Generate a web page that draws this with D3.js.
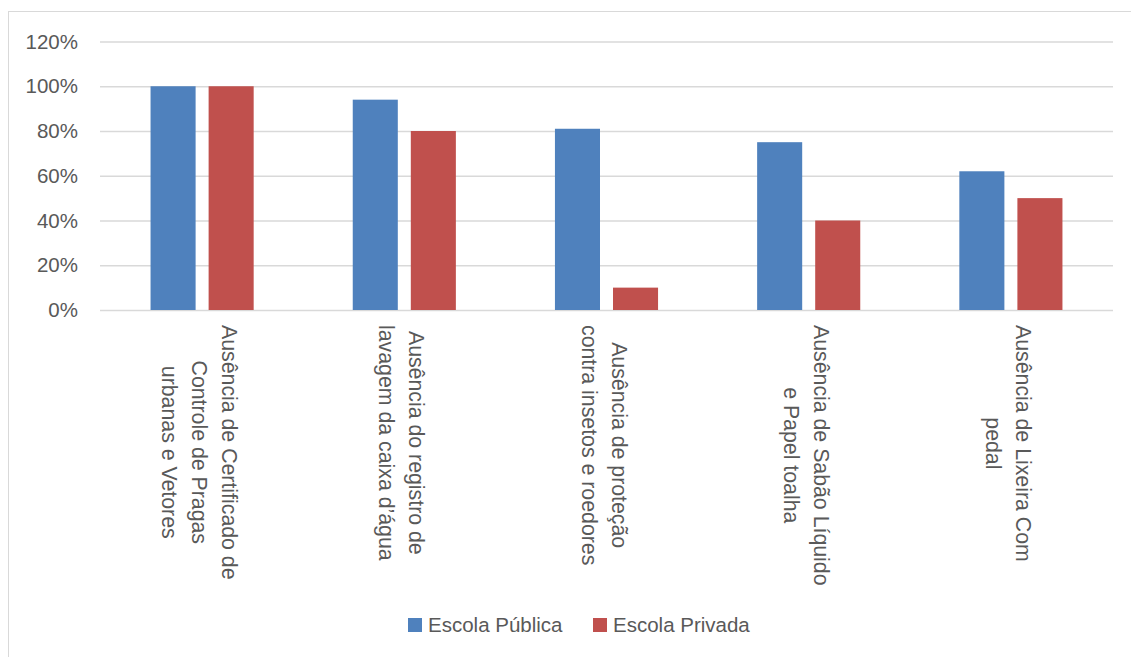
<!DOCTYPE html>
<html><head><meta charset="utf-8">
<script src="https://cdn.jsdelivr.net/npm/d3@7"></script>
<style>body{margin:0;background:#fff;} svg{display:block;}</style>
</head><body>
<svg id="chart" width="1131" height="657"></svg>
<script>
const categories = [
  ["Ausência de Certificado de", "Controle de Pragas", "urbanas e Vetores"],
  ["Ausência do registro de", "lavagem da caixa d’água"],
  ["Ausência de proteção", "contra insetos e roedores"],
  ["Ausência de Sabão Líquido", "e Papel toalha"],
  ["Ausência de Lixeira Com", "pedal"]
];
const seriesNames = ["Escola Pública", "Escola Privada"];
const publica = [1.00, 0.94, 0.81, 0.75, 0.62];
const privada = [1.00, 0.80, 0.10, 0.40, 0.50];
const yTicks = [0, 0.2, 0.4, 0.6, 0.8, 1.0, 1.2];
const colors = ["#4F81BD", "#C0504D"];

(function () {
const FONT = "'Liberation Sans', Arial, sans-serif";
const TXT = "#595959";
const svg = d3.select("#chart");

// outer border
svg.append("rect").attr("x", 8.5).attr("y", 11.5).attr("width", 1140).attr("height", 660)
  .attr("fill", "none").attr("stroke", "#d9d9d9").attr("stroke-width", 1);

const pL = 100, pR = 1113, pT = 41.5, pB = 310;
const y = d3.scaleLinear().domain([0, 1.2]).range([pB, pT]);
const keys = categories.map((c, i) => i);
const x0 = d3.scaleBand().domain(keys).range([pL, pR]).paddingInner(0.49).paddingOuter(0.25);
const x1 = d3.scaleBand().domain(seriesNames).range([0, x0.bandwidth()]).paddingInner(0.224);

// gridlines + tick labels via axis
const yAxis = d3.axisLeft(y).tickValues(yTicks).tickFormat(d3.format(".0%")).tickSize(-(pR - pL)).tickPadding(22);
const ga = svg.append("g").attr("transform", `translate(${pL},0)`).call(yAxis);
ga.select(".domain").remove();
ga.selectAll(".tick line").attr("stroke", "#d9d9d9").attr("stroke-width", 1.3);
ga.selectAll(".tick text").attr("fill", TXT).style("font-family", FONT).style("font-size", "20.5px");

// bars
const data = keys.map(i => ({i, vals: [publica[i], privada[i]]}));
const groups = svg.append("g").selectAll("g").data(data).join("g")
  .attr("transform", d => `translate(${x0(d.i)},0)`);
groups.selectAll("rect").data(d => d.vals.map((v, k) => ({k, v}))).join("rect")
  .attr("x", d => x1(seriesNames[d.k]))
  .attr("width", x1.bandwidth())
  .attr("y", d => y(d.v))
  .attr("height", d => y(0) - y(d.v))
  .attr("fill", d => colors[d.k]);

// category labels (rotated 90°)
const lh = 30;
keys.forEach(i => {
  const lines = categories[i];
  const cx = x0(i) + x0.bandwidth() / 2;
  const t = svg.append("text").attr("transform", `translate(${cx},325) rotate(90)`)
    .attr("fill", TXT).style("font-family", FONT).style("font-size", "21.3px");
  const n = lines.length;
  const spans = lines.map((s, j) => t.append("tspan").attr("y", (j - (n - 1) / 2) * lh + 10).text(s));
  const maxL = d3.max(spans, sp => sp.node().getComputedTextLength());
  spans.forEach(sp => sp.attr("x", maxL / 2).attr("text-anchor", "middle"));
});

// legend
const lg = svg.append("g");
const legX = [408, 593];
seriesNames.forEach((s, k) => {
  lg.append("rect").attr("x", legX[k]).attr("y", 618).attr("width", 14).attr("height", 14).attr("fill", colors[k]);
  lg.append("text").attr("x", legX[k] + 20).attr("y", 632).attr("fill", TXT)
    .style("font-family", FONT).style("font-size", "20.5px").text(s);
});
})();
</script>
</body></html>
